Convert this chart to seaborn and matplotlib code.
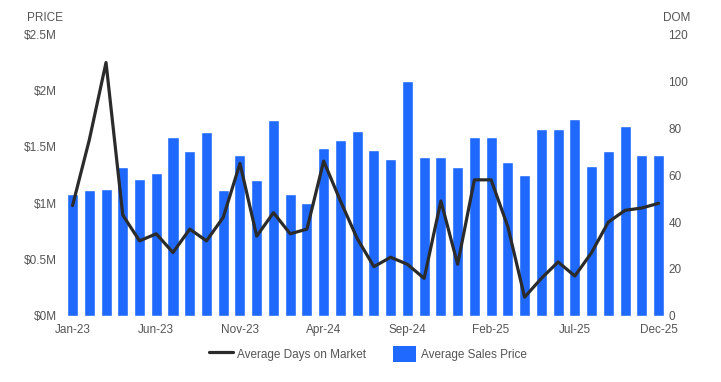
import matplotlib
matplotlib.use("Agg")
import matplotlib.pyplot as plt
import numpy as np
import pandas as pd
import seaborn as sns
from matplotlib.lines import Line2D
from matplotlib.patches import Patch

# 月份
months = pd.date_range("2023-01-01", "2025-12-01", freq="MS").strftime("%b-%y").tolist()

# 平均成交价（百万美元）
avg_price = [1.08, 1.12, 1.13, 1.32, 1.22, 1.27, 1.59, 1.46, 1.63, 1.12, 1.43, 1.21,
             1.74, 1.08, 1.00, 1.49, 1.56, 1.64, 1.47, 1.39, 2.09, 1.41, 1.41, 1.32,
             1.59, 1.59, 1.37, 1.25, 1.66, 1.66, 1.75, 1.33, 1.46, 1.69, 1.43, 1.43]

# 平均在售天数
avg_dom = [47, 75, 108, 43, 32, 35, 27, 37, 32, 42, 65, 34,
           44, 35, 37, 66, 49, 33, 21, 25, 22, 16, 49, 22,
           58, 58, 38, 8, 16, 23, 17, 27, 40, 45, 46, 48]

bar_color = "#1f69ff"
line_color = "#2b2b2b"
text_color = "#555555"

sns.set_theme(style="white")
plt.rcParams["font.family"] = ["Liberation Sans", "DejaVu Sans"]

df = pd.DataFrame({"month": months, "price": avg_price, "dom": avg_dom})
df["pos"] = np.arange(len(df))

fig = plt.figure(figsize=(7.21, 3.82), dpi=100)
ax = fig.add_axes([0.089, 0.173, 0.836, 0.737])
sns.barplot(data=df, x="month", y="price", color=bar_color, saturation=1,
            width=0.66, ax=ax)
ax.set_ylim(0, 2.5)
ax.set_xlim(-0.5, len(df) - 0.5)
ax.set_yticks([0, 0.5, 1, 1.5, 2, 2.5])
ax.set_yticklabels(["$0M", "$0.5M", "$1M", "$1.5M", "$2M", "$2.5M"])
ax.set_xticks(df["pos"][::5])
ax.set_xticklabels(df["month"][::5])
ax.set_xlabel("")
ax.set_ylabel("")

ax2 = ax.twinx()
sns.lineplot(data=df, x="pos", y="dom", color=line_color, linewidth=2.3, ax=ax2)
ax2.set_ylim(0, 120)
ax2.set_yticks([0, 20, 40, 60, 80, 100, 120])
ax2.set_xlim(-0.5, len(df) - 0.5)
ax2.set_ylabel("")
ax2.set_xlabel("")

for a in (ax, ax2):
    for s in a.spines.values():
        s.set_visible(False)
    a.tick_params(axis="both", length=0, labelsize=8.5, labelcolor=text_color)
    a.grid(False)
ax.tick_params(axis="y", pad=5)
ax.tick_params(axis="x", pad=6)
ax2.tick_params(axis="y", pad=1)

fig.text(0.037, 0.952, "PRICE", fontsize=8.5, color=text_color, va="center")
fig.text(0.919, 0.952, "DOM", fontsize=8.5, color=text_color, va="center")

handles = [Line2D([0], [0], color=line_color, linewidth=2.3),
           Patch(facecolor=bar_color, edgecolor="none")]
fig.legend(handles, ["Average Days on Market", "Average Sales Price"],
           loc="center", bbox_to_anchor=(0.51, 0.073), ncol=2, frameon=False,
           fontsize=8.5, labelcolor=text_color, handlelength=2.0, handleheight=1.7,
           handletextpad=0.35, columnspacing=2.3)

fig.savefig("out.png", dpi=100)
